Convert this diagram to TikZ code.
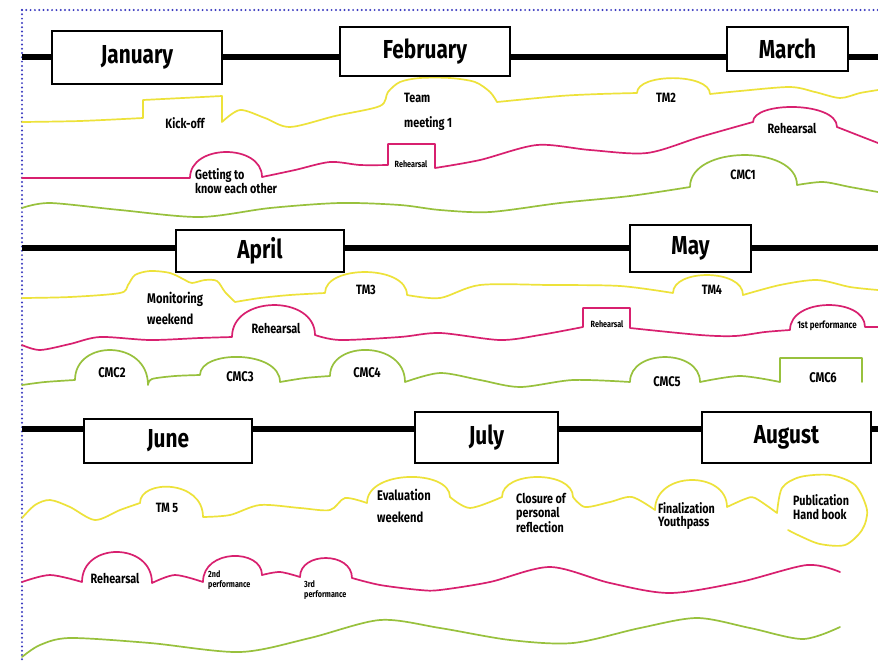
\documentclass[tikz,border=0pt]{standalone}
\usepackage{fontspec}
\setmainfont{Fira Sans}[FakeStretch=0.8]
\definecolor{yel}{HTML}{EDE23A}
\definecolor{pnk}{HTML}{D8206F}
\definecolor{grn}{HTML}{98C13D}
\definecolor{dotblue}{HTML}{3B3BC0}
\begin{document}
\begin{tikzpicture}[x=1pt,y=-1pt,
  monthbox/.style={draw=black, line width=2pt, fill=white, inner sep=0pt,
    font=\bfseries\fontsize{26}{28}\selectfont},
  ev/.style={font=\bfseries\fontsize{13.5}{15}\selectfont, inner sep=0pt, align=left},
  evsmall/.style={font=\bfseries\fontsize{9}{10}\selectfont, inner sep=0pt, align=left},
  yl/.style={draw=yel, line width=1.7pt, line join=round, line cap=round},
  pl/.style={draw=pnk, line width=1.7pt, line join=round, line cap=round},
  gl/.style={draw=grn, line width=1.7pt, line join=round, line cap=round},
  tline/.style={draw=black, line width=6pt},
  frame/.style={draw=dotblue, line width=2.2pt, line cap=round, dash pattern=on 0pt off 4.3pt}]
\useasboundingbox (0,0) rectangle (878,662);
\fill[white] (0,0) rectangle (878,662);
% frame
\draw[frame] (22,10) -- (878,10);
\draw[frame] (22,10) -- (22,662);
% timelines
\coordinate (l1a) at (22,57); \coordinate (l1b) at (878,57);
\coordinate (l2a) at (22,248); \coordinate (l2b) at (878,248);
\coordinate (l3a) at (22,429); \coordinate (l3b) at (878,429);
\draw[tline] (l1a) -- (l1b);
\draw[tline] (l2a) -- (l2b);
\draw[tline] (l3a) -- (l3b);

% ---------- Row 1 curves
\draw[yl] plot[smooth] coordinates {(22,122) (80,121) (143,118)} -- (143,100) -- (222,96) -- (222,122)
  -- plot[smooth] coordinates {(222,122) (240,110) (265,118) (290,127) (335,116) (380,106) (388,92) (400,82) (420,78) (450,78) (475,82) (490,92) (497,102)}
  -- plot[smooth] coordinates {(497,102) (560,96) (600,94) (637,93)}
  .. controls (637,73) and (710,73) .. (710,94)
  -- plot[smooth] coordinates {(710,94) (740,91) (790,87) (815,92) (840,98) (860,93) (878,90)};
\draw[pl] plot[smooth] coordinates {(22,178) (100,178) (190,178)}
  .. controls (190,143.5) and (262,143.5) .. (262,177)
  -- plot[smooth] coordinates {(262,177) (295,170) (330,162) (360,165) (388,165)}
  -- (388,144) -- (435,144) -- (435,168)
  -- plot[smooth] coordinates {(435,168) (480,160) (537,145) (590,150) (647,153) (700,137) (753,122)}
  .. controls (753,101.2) and (837,101.2) .. (837,127)
  -- plot[smooth] coordinates {(837,127) (860,136) (878,143)};
\draw[gl] plot[smooth] coordinates {(22,208) (50,203) (120,210) (200,217) (270,208) (340,203) (400,205) (440,210) (490,212) (560,203) (630,196) (690,187)}
  .. controls (690,144.7) and (797,144.7) .. (797,185)
  -- plot[smooth] coordinates {(797,185) (823,182) (850,187) (878,192)};

% ---------- Row 2 curves
\draw[yl] plot[smooth] coordinates {(22,298) (70,297) (120,293) (128,285) (135,275) (150,271) (170,273) (185,280) (192,283) (205,280) (217,281) (225,292) (235,302)}
  -- plot[smooth] coordinates {(235,302) (260,298) (290,295) (325,293)}
  .. controls (325,264.7) and (407,264.7) .. (407,295)
  -- plot[smooth] coordinates {(407,295) (440,298) (480,285) (550,285) (620,286) (673,293)}
  .. controls (673,268.7) and (743,268.7) .. (743,295)
  -- plot[smooth] coordinates {(743,295) (780,285) (817,280) (850,287) (878,290)};
\draw[pl] plot[smooth] coordinates {(22,345) (40,350) (70,344) (100,337) (150,340) (200,338) (232,337)}
  .. controls (232,294.7) and (315,294.7) .. (315,335)
  -- plot[smooth] coordinates {(315,335) (340,340) (400,337) (440,333) (500,340) (540,335) (583,327)}
  -- (583,308) -- (630,308) -- (630,328)
  -- plot[smooth] coordinates {(630,328) (700,335) (735,336) (765,332) (790,330)}
  .. controls (790,297.2) and (865,297.2) .. (865,327) -- (878,327);
\draw[gl] plot[smooth] coordinates {(22,385) (45,382) (75,380)}
  .. controls (75,339.2) and (148,339.2) .. (148,385)
  -- plot[smooth] coordinates {(148,385) (152,379) (175,376) (200,375)}
  .. controls (200,349.8) and (280,349.8) .. (280,382)
  -- plot[smooth] coordinates {(280,382) (305,378) (330,376)}
  .. controls (330,340.3) and (405,340.3) .. (405,382)
  -- plot[smooth] coordinates {(405,382) (440,373) (480,380) (520,387) (573,380) (630,382)}
  .. controls (630,348.7) and (700,348.7) .. (700,382)
  -- plot[smooth] coordinates {(700,382) (740,376) (780,382)}
  -- (780,358) -- (862,358) -- (862,382);

% ---------- Row 3 curves
\draw[yl] plot[smooth] coordinates {(22,518) (35,505) (50,500) (70,507) (95,520) (120,510) (140,503)}
  .. controls (140,479.3) and (203,479.3) .. (203,517)
  -- plot[smooth] coordinates {(203,517) (230,515) (260,505) (300,508) (330,510) (345,498) (367,503)}
  .. controls (367,469.3) and (450,469.3) .. (450,497)
  -- plot[smooth] coordinates {(450,497) (470,508) (502,497)}
  .. controls (502,470.3) and (573,470.3) .. (573,497)
  -- plot[smooth] coordinates {(573,497) (585,507) (610,502) (632,497) (655,510)}
  .. controls (655,470.5) and (727,470.5) .. (727,507)
  -- plot[smooth] coordinates {(727,507) (745,499) (755,498) (777,513)}
  -- plot[smooth] coordinates {(777,513) (782,488) (800,477) (830,475) (855,485) (867,510) (862,530) (845,545) (820,544) (800,536) (788,530)};
\draw[pl] plot[smooth] coordinates {(22,582) (50,575) (82,582)}
  .. controls (82,541.8) and (152,541.8) .. (152,583)
  -- plot[smooth] coordinates {(152,583) (175,575) (203,582)}
  .. controls (203,548.5) and (262,548.5) .. (262,575)
  -- plot[smooth] coordinates {(262,575) (280,572) (300,577)}
  .. controls (300,551.5) and (352,551.5) .. (352,578)
  -- plot[smooth] coordinates {(352,578) (380,585) (420,590) (440,590) (490,582) (550,567) (610,583) (670,593) (740,582) (807,565) (840,572)};
\draw[gl] plot[smooth] coordinates {(22,657) (40,645) (70,638) (150,643) (240,652) (310,638) (380,620) (440,628) (510,640) (573,643) (640,628) (697,618) (750,628) (803,639) (840,627)};

% ---------- Month boxes
\node[monthbox, minimum width=170pt, minimum height=53pt] (jan) at (137,57.5) {January};
\node[monthbox, minimum width=170pt, minimum height=49pt] (feb) at (425,51.5) {February};
\node[monthbox, minimum width=121pt, minimum height=44pt] (mar) at (787.5,49) {March};
\node[monthbox, minimum width=168pt, minimum height=42pt] (apr) at (260,251) {April};
\node[monthbox, minimum width=121pt, minimum height=47pt] (may) at (690.5,248.5) {May};
\node[monthbox, minimum width=168pt, minimum height=44pt] (jun) at (168,441) {June};
\node[monthbox, minimum width=143pt, minimum height=51pt] (jul) at (486.5,437.5) {July};
\node[monthbox, minimum width=169pt, minimum height=51pt] (aug) at (786.5,437.5) {August};

% ---------- Event labels row 1
\node[ev] (kick) at (185,123) {Kick-off};
\node[ev, anchor=west, font=\bfseries\fontsize{13.5}{25}\selectfont] (tm1) at (404,112) {Team\\meeting 1};
\node[ev] (tm2) at (666,98) {TM2};
\node[ev, anchor=west, font=\bfseries\fontsize{13.5}{13.5}\selectfont] (get) at (195,181) {Getting to\\know each other};
\node[evsmall] (reh1) at (411,164) {Rehearsal};
\node[ev] (reh2) at (792,128) {Rehearsal};
\node[ev] (cmc1) at (743,175) {CMC1};

% ---------- Event labels row 2
\node[ev, anchor=west, font=\bfseries\fontsize{14}{21}\selectfont] (mon) at (147,308) {Monitoring\\weekend};
\node[ev] (tm3) at (366,290) {TM3};
\node[ev] (tm4) at (712,290) {TM4};
\node[ev] (reh3) at (276,328) {Rehearsal};
\node[evsmall] (reh4) at (607,324) {Rehearsal};
\node[evsmall, font=\bfseries\fontsize{10}{11}\selectfont] (perf1) at (827,326) {1st performance};
\node[ev, font=\bfseries\fontsize{14}{15}\selectfont] (cmc2) at (112,373) {CMC2};
\node[ev, font=\bfseries\fontsize{14}{15}\selectfont] (cmc3) at (240,377) {CMC3};
\node[ev, font=\bfseries\fontsize{14}{15}\selectfont] (cmc4) at (367,373) {CMC4};
\node[ev, font=\bfseries\fontsize{14}{15}\selectfont] (cmc5) at (667,382) {CMC5};
\node[ev, font=\bfseries\fontsize{14}{15}\selectfont] (cmc6) at (823,378) {CMC6};

% ---------- Event labels row 3
\node[ev] (tm5) at (167,508) {TM 5};
\node[ev, anchor=west, font=\bfseries\fontsize{14}{22}\selectfont] (eval) at (377,506) {Evaluation\\weekend};
\node[ev, anchor=west, font=\bfseries\fontsize{13.5}{13.5}\selectfont] (clos) at (516,513) {Closure of\\personal\\reflection};
\node[ev, anchor=west, font=\bfseries\fontsize{13.5}{13.5}\selectfont] (fin) at (658,516) {Finalization\\Youthpass};
\node[ev, anchor=west, font=\bfseries\fontsize{13.5}{13.5}\selectfont] (pub) at (793,507) {Publication\\Hand book};
\node[ev] (reh5) at (115,578) {Rehearsal};
\node[evsmall, anchor=west, font=\bfseries\fontsize{9}{10.5}\selectfont] (perf2) at (208,580) {2nd\\performance};
\node[evsmall, anchor=west, font=\bfseries\fontsize{9}{10.5}\selectfont] (perf3) at (304,590) {3rd\\performance};
\end{tikzpicture}
\end{document}
